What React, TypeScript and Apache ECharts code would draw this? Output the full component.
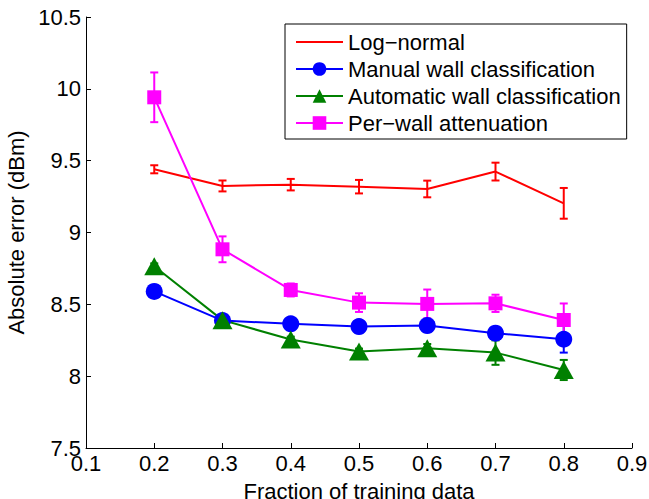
import React, { useEffect, useRef } from "react";
import * as echarts from "echarts";

const fractions = [0.2, 0.3, 0.4, 0.5, 0.6, 0.7, 0.8];

const logNormal = [9.44, 9.324, 9.333, 9.319, 9.303, 9.424, 9.203];
const logNormalErr = [0.028, 0.038, 0.04, 0.047, 0.058, 0.062, 0.107];

const manualWall = [8.59, 8.387, 8.364, 8.345, 8.352, 8.299, 8.257];
const manualWallErr = [0.02, 0.02, 0.02, 0.02, 0.03, 0.03, 0.093];

const autoWall = [8.765, 8.39, 8.255, 8.172, 8.194, 8.164, 8.043];
const autoWallErr = [0.02, 0.02, 0.02, 0.02, 0.03, 0.085, 0.07];

const perWall = [9.941, 8.883, 8.6, 8.512, 8.503, 8.507, 8.391];
const perWallErr = [0.173, 0.09, 0.045, 0.065, 0.1, 0.06, 0.115];

const seriesNames = [
  "Log\u2212normal",
  "Manual wall classification",
  "Automatic wall classification",
  "Per\u2212wall attenuation",
];

const FONT = "'Liberation Sans', Arial, Helvetica, sans-serif";
const FS = 22;

function errorSeries(values: number[], errs: number[], color: string) {
  return {
    type: "custom",
    z: 2,
    silent: true,
    data: fractions.map((x, i) => [x, values[i], errs[i]]),
    encode: { x: 0, y: 1 },
    renderItem: (_params: any, api: any) => {
      const x = api.value(0);
      const y = api.value(1);
      const e = api.value(2);
      const top = api.coord([x, y + e]);
      const bot = api.coord([x, y - e]);
      const hw = 4;
      const style = { stroke: color, lineWidth: 2 };
      return {
        type: "group",
        children: [
          { type: "line", shape: { x1: top[0], y1: top[1], x2: bot[0], y2: bot[1] }, style },
          { type: "line", shape: { x1: top[0] - hw, y1: top[1], x2: top[0] + hw, y2: top[1] }, style },
          { type: "line", shape: { x1: bot[0] - hw, y1: bot[1], x2: bot[0] + hw, y2: bot[1] }, style },
        ],
      };
    },
  };
}

function lineSeries(name: string, values: number[], color: string, symbol: string, size: any) {
  return {
    name,
    type: "line",
    z: 2,
    data: fractions.map((x, i) => [x, values[i]]),
    symbol,
    symbolSize: size,
    showSymbol: symbol !== "none",
    lineStyle: { color, width: 2 },
    itemStyle: { color, borderWidth: 0 },
    emphasis: { disabled: true },
  };
}

export default function App() {
  const ref = useRef<HTMLDivElement>(null);
  useEffect(() => {
    if (!ref.current) return;
    const chart = echarts.init(ref.current, undefined, { renderer: "svg" });
    chart.setOption({
      animation: false,
      backgroundColor: "#ffffff",
      textStyle: { fontFamily: FONT, color: "#000" },
      grid: { left: 86, right: 17, top: 17, bottom: 51, containLabel: false, outerBoundsMode: "none" },
      legend: {
        data: [
          { name: seriesNames[0], itemStyle: { opacity: 0 } },
          seriesNames[1],
          seriesNames[2],
          seriesNames[3],
        ],
        orient: "vertical",
        left: 285,
        top: 24,
        padding: [7, 6, 5, 10],
        itemGap: 5,
        itemWidth: 47,
        itemHeight: 17,
        borderColor: "#000",
        borderWidth: 1,
        backgroundColor: "#fff",
        selectedMode: false,
        textStyle: { fontFamily: FONT, fontSize: FS, color: "#000", lineHeight: 21 },
      },
      xAxis: {
        type: "value",
        min: 0.1,
        max: 0.9,
        interval: 0.1,
        name: "Fraction of training data",
        nameLocation: "middle",
        nameGap: 32,
        nameTextStyle: { fontFamily: FONT, fontSize: FS, color: "#000" },
        axisLine: { lineStyle: { color: "#000", width: 1 } },
        axisTick: { inside: true, length: 5, lineStyle: { color: "#000" } },
        axisLabel: { fontFamily: FONT, fontSize: FS, color: "#000", margin: 4, showMinLabel: true, showMaxLabel: true },
        splitLine: { show: false },
      },
      yAxis: {
        type: "value",
        min: 7.5,
        max: 10.5,
        interval: 0.5,
        name: "Absolute error (dBm)",
        nameLocation: "middle",
        nameGap: 57,
        nameTextStyle: { fontFamily: FONT, fontSize: FS, color: "#000" },
        axisLine: { show: true, lineStyle: { color: "#000", width: 1 } },
        axisTick: { show: true, inside: true, length: 5, lineStyle: { color: "#000" } },
        axisLabel: { fontFamily: FONT, fontSize: FS, color: "#000", margin: 5 },
        splitLine: { show: false },
      },
      series: [
        lineSeries(seriesNames[0], logNormal, "#ff0000", "none", 0),
        errorSeries(logNormal, logNormalErr, "#ff0000"),
        errorSeries(manualWall, manualWallErr, "#0000ff"),
        lineSeries(seriesNames[1], manualWall, "#0000ff", "circle", 17),
        errorSeries(autoWall, autoWallErr, "#008000"),
        lineSeries(seriesNames[2], autoWall, "#008000", "triangle", [20, 18]),
        errorSeries(perWall, perWallErr, "#ff00ff"),
        lineSeries(seriesNames[3], perWall, "#ff00ff", "rect", 14),
      ],
    });
    return () => chart.dispose();
  }, []);
  return (
    <div
      ref={ref}
      style={{ position: "fixed", left: 0, top: 0, width: 649, height: 499 }}
    />
  );
}
